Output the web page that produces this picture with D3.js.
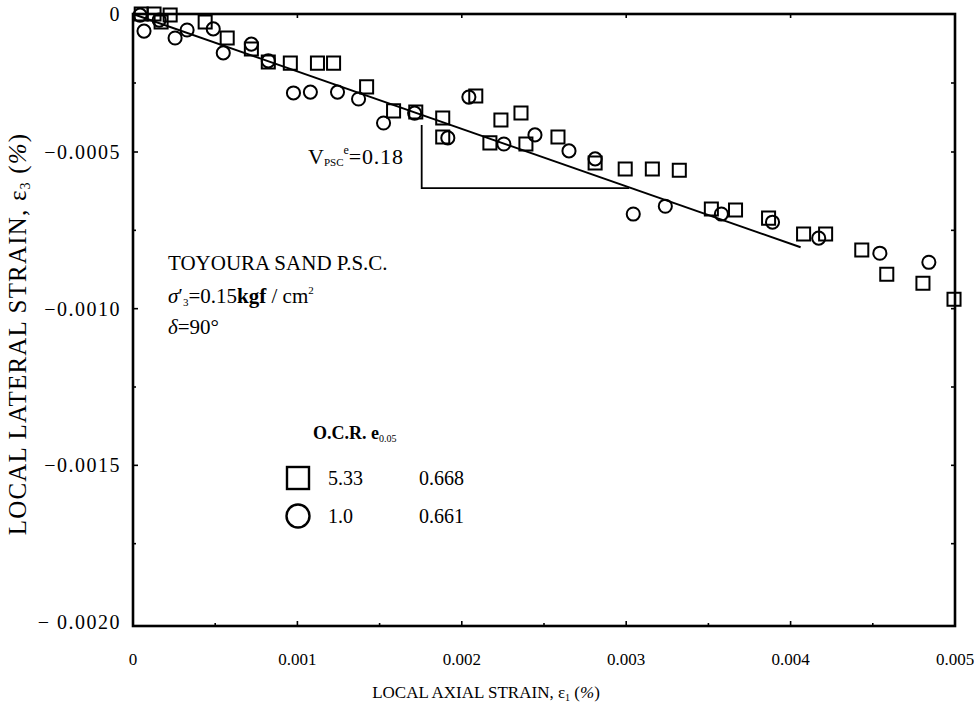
<!DOCTYPE html>
<html>
<head>
<meta charset="utf-8">
<script src="https://cdn.jsdelivr.net/npm/d3@7"></script>
<style>
  html, body { margin: 0; padding: 0; background: #fff; }
  svg { display: block; font-family: "Liberation Serif", "DejaVu Serif", serif; }
</style>
</head>
<body>
<svg id="chart" width="974" height="707"></svg>
<script>
// Local axial strain ε1 (%) vs local lateral strain ε3 (%), Toyoura sand, plane strain compression

// O.C.R. = 5.33 (squares)
const ocr533X = [0.00005, 0.000128, 0.000226, 0.000171, 0.000439, 0.000573, 0.00072, 0.000823, 0.000957, 0.001122,
  0.00122, 0.001421, 0.001585, 0.00172, 0.001884, 0.001884, 0.002085, 0.002238, 0.00236, 0.002171,
  0.00239, 0.002585, 0.002811, 0.002994, 0.003159, 0.003323, 0.003518, 0.003665, 0.003866, 0.004079,
  0.004213, 0.004433, 0.004585, 0.004805, 0.004994];
const ocr533Y = [0, 0, -0.000004, -0.000029, -0.000029, -0.000087, -0.000127, -0.000174, -0.000178, -0.000178,
  -0.000178, -0.000264, -0.000351, -0.000355, -0.000377, -0.000446, -0.000297, -0.000384, -0.000359, -0.000467,
  -0.000471, -0.000446, -0.000535, -0.000554, -0.000554, -0.000558, -0.000682, -0.000685, -0.000711, -0.000762,
  -0.000762, -0.000813, -0.00089, -0.000919, -0.00097];

// O.C.R. = 1.0 (circles)
const ocr10X = [0.000043, 0.000067, 0.000159, 0.000256, 0.000329, 0.000488, 0.000549, 0.00072, 0.000823, 0.000976,
  0.001079, 0.001244, 0.001372, 0.001524, 0.001713, 0.001915, 0.002043, 0.002256, 0.002445, 0.002652,
  0.002811, 0.003043, 0.003238, 0.003579, 0.00389, 0.004171, 0.004543, 0.004841];
const ocr10Y = [-0.000004, -0.000062, -0.000022, -0.000087, -0.000058, -0.000054, -0.000141, -0.000109, -0.00017, -0.000286,
  -0.000283, -0.000283, -0.000308, -0.000395, -0.000359, -0.000449, -0.000301, -0.000471, -0.000438, -0.000496,
  -0.000522, -0.000698, -0.000673, -0.000698, -0.000724, -0.000775, -0.000823, -0.000852];

// Fitted straight line and its slope triangle
const fitLineX = [0, 0.004061];
const fitLineY = [0, -0.000804];
const slopeTriX = [0.001756, 0.001756, 0.003018];
const slopeTriY = [-0.000402, -0.000615, -0.000615];

// Axis ticks
const xTickValues = [0, 0.001, 0.002, 0.003, 0.004, 0.005];
const xTickLabels = ["0", "0.001", "0.002", "0.003", "0.004", "0.005"];
const yTickValues = [0, -0.0005, -0.001, -0.0015, -0.002];
const yTickLabels = ["0", "\u22120.0005", "\u22120.0010", "\u22120.0015", "\u2212 0.0020"];

// Legend rows
const legendOCR = ["5.33", "1.0"];
const legendE = ["0.668", "0.661"];
const legendShape = ["square", "circle"];

const svg = d3.select("#chart");
const frame = { left: 133, right: 955, top: 14, bottom: 626 };

const x = d3.scaleLinear().domain([0, 0.005]).range([frame.left, frame.right]);
const y = d3.scaleLinear().domain([0, -0.0005, -0.002]).range([frame.top, 152, 622]);

// frame
svg.append("rect")
  .attr("x", frame.left).attr("y", frame.top)
  .attr("width", frame.right - frame.left).attr("height", frame.bottom - frame.top)
  .attr("fill", "none").attr("stroke", "#000").attr("stroke-width", 2.6);

// inward ticks
const tickG = svg.append("g").attr("stroke", "#000").attr("stroke-width", 1.6);
const xMinor = d3.range(1, 10, 2).map(i => i * 0.0005);
const yMinor = d3.range(1, 8, 2).map(i => -i * 0.00025);
const yQuarter = d3.range(1, 8).map(i => -i * 0.00025);
xTickValues.slice(1, -1).forEach(v => {
  tickG.append("line").attr("x1", x(v)).attr("x2", x(v)).attr("y1", frame.bottom).attr("y2", frame.bottom - 5);
  tickG.append("line").attr("x1", x(v)).attr("x2", x(v)).attr("y1", frame.top).attr("y2", frame.top + 4);
});
xMinor.forEach(v => {
  tickG.append("line").attr("x1", x(v)).attr("x2", x(v)).attr("y1", frame.bottom).attr("y2", frame.bottom - 3);
});
yTickValues.slice(1, -1).forEach(v => {
  tickG.append("line").attr("x1", frame.left).attr("x2", frame.left + 5).attr("y1", y(v)).attr("y2", y(v));
});
yMinor.forEach(v => {
  tickG.append("line").attr("x1", frame.left).attr("x2", frame.left + 3).attr("y1", y(v)).attr("y2", y(v));
});
yQuarter.forEach(v => {
  tickG.append("line").attr("x1", frame.right).attr("x2", frame.right - 4).attr("y1", y(v)).attr("y2", y(v));
});

// tick labels
svg.append("g").selectAll("text").data(xTickValues).join("text")
  .attr("x", d => x(d)).attr("y", 665)
  .attr("text-anchor", "middle").attr("font-size", 17)
  .text((d, i) => xTickLabels[i]);
svg.append("g").selectAll("text").data(yTickValues).join("text")
  .attr("x", 121).attr("y", d => y(d)).attr("dy", "0.35em")
  .attr("text-anchor", "end").attr("font-size", 20).attr("letter-spacing", 1.5)
  .text((d, i) => yTickLabels[i]);

// axis titles
const xt = svg.append("text").attr("x", 486).attr("y", 698).attr("text-anchor", "middle").attr("font-size", 17);
xt.append("tspan").text("LOCAL AXIAL STRAIN, \u03b5");
xt.append("tspan").attr("font-size", 10).attr("dy", 3).text("1");
xt.append("tspan").attr("dy", -3).text(" (");
xt.append("tspan").attr("font-style", "italic").text("%");
xt.append("tspan").text(")");

const yt = svg.append("text").attr("transform", "translate(26,334) rotate(-90)")
  .attr("text-anchor", "middle").attr("font-size", 25).attr("letter-spacing", 1.2);
yt.append("tspan").text("LOCAL LATERAL STRAIN, \u03b5");
yt.append("tspan").attr("font-size", 14).attr("dy", 4).text("3");
yt.append("tspan").attr("dy", -4).text(" (");
yt.append("tspan").attr("font-style", "italic").text("%");
yt.append("tspan").text(")");

// fitted line
const line = d3.line().x(d => x(d[0])).y(d => y(d[1]));
svg.append("path").datum(d3.zip(fitLineX, fitLineY)).attr("d", line)
  .attr("fill", "none").attr("stroke", "#000").attr("stroke-width", 2);
svg.append("path").datum(d3.zip(slopeTriX, slopeTriY)).attr("d", line)
  .attr("fill", "none").attr("stroke", "#000").attr("stroke-width", 1.8);

// slope label
const vl = svg.append("text").attr("x", 308).attr("y", 164).attr("font-size", 22);
vl.append("tspan").text("V");
vl.append("tspan").attr("font-size", 11).attr("dy", 2).text("PSC");
vl.append("tspan").attr("font-size", 12).attr("dy", -12).text("e");
vl.append("tspan").attr("dy", 10).attr("letter-spacing", 0.8).text("=0.18");

// data markers
const symSq = d3.symbol().type(d3.symbolSquare).size(170);
const symCi = d3.symbol().type(d3.symbolCircle).size(135);
svg.append("g").selectAll("path").data(d3.zip(ocr533X, ocr533Y)).join("path")
  .attr("transform", d => `translate(${x(d[0])},${y(d[1])})`)
  .attr("d", symSq).attr("fill", "none").attr("stroke", "#000").attr("stroke-width", 2);
svg.append("g").selectAll("path").data(d3.zip(ocr10X, ocr10Y)).join("path")
  .attr("transform", d => `translate(${x(d[0])},${y(d[1])})`)
  .attr("d", symCi).attr("fill", "none").attr("stroke", "#000").attr("stroke-width", 2);

// test conditions
const info = svg.append("g").attr("font-size", 21);
info.append("text").attr("x", 168).attr("y", 270).text("TOYOURA SAND  P.S.C.");
const sg = info.append("text").attr("x", 168).attr("y", 303);
sg.append("tspan").attr("font-style", "italic").text("\u03c3");
sg.append("tspan").text("\u2032");
sg.append("tspan").attr("font-size", 11).attr("dy", 3).text("3");
sg.append("tspan").attr("dy", -3).text("=0.15");
sg.append("tspan").attr("font-weight", "bold").text("kgf");
sg.append("tspan").text(" / cm");
sg.append("tspan").attr("font-size", 11).attr("dy", -9).text("2");
const dl = info.append("text").attr("x", 168).attr("y", 334);
dl.append("tspan").attr("font-style", "italic").text("\u03b4");
dl.append("tspan").text("=90\u00b0");

// legend
const lg = svg.append("g").attr("font-size", 20);
const lh = lg.append("text").attr("x", 313).attr("y", 439).attr("font-weight", "bold").attr("font-size", 18);
lh.append("tspan").text("O.C.R. e");
lh.append("tspan").attr("font-size", 10).attr("font-weight", "normal").attr("dy", 3).text("0.05");
const rowY = [478, 516];
legendShape.forEach((s, i) => {
  if (s === "square") {
    lg.append("rect").attr("x", 287).attr("y", rowY[i] - 11).attr("width", 22).attr("height", 22)
      .attr("fill", "none").attr("stroke", "#000").attr("stroke-width", 2.4);
  } else {
    lg.append("circle").attr("cx", 298).attr("cy", rowY[i]).attr("r", 11.5)
      .attr("fill", "none").attr("stroke", "#000").attr("stroke-width", 2.4);
  }
  lg.append("text").attr("x", 328).attr("y", rowY[i]).attr("dy", "0.35em").text(legendOCR[i]);
  lg.append("text").attr("x", 419).attr("y", rowY[i]).attr("dy", "0.35em").text(legendE[i]);
});
</script>
</body>
</html>
